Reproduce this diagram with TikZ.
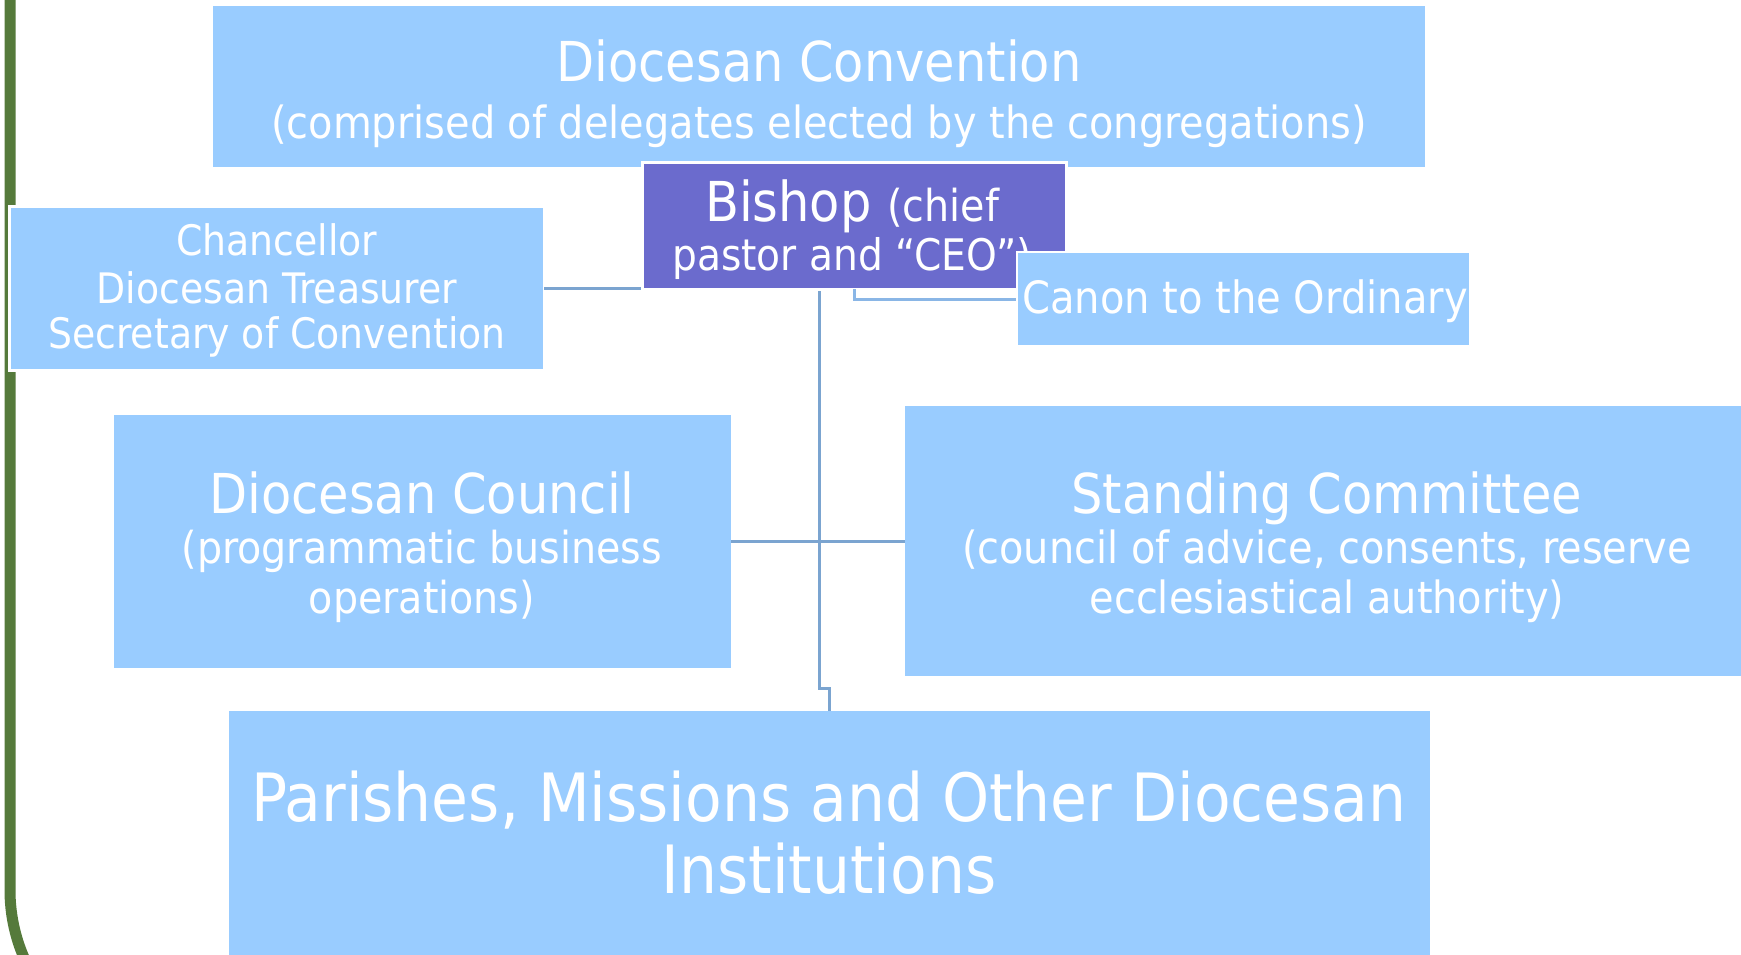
\documentclass[tikz,border=0pt]{standalone}
\usepackage{fontspec}
\setmainfont{DejaVu Sans Condensed}
\definecolor{boxblue}{RGB}{153,204,255}
\definecolor{bishopc}{RGB}{107,107,205}
\definecolor{linkc}{RGB}{123,164,208}
\definecolor{linkl}{RGB}{138,182,230}
\definecolor{frameg}{RGB}{85,122,59}
\newcommand{\fs}[1]{\fontsize{#1pt}{#1pt}\selectfont}
\tikzset{
  box/.style={rectangle, fill=boxblue, anchor=north west, inner sep=0pt, outer sep=0pt},
  wbox/.style={box, draw=white, line width=3pt},
  txt/.style={anchor=base, text=white, inner sep=0pt, outer sep=0pt},
  link/.style={draw=linkc, line width=3pt},
  linkb/.style={draw=linkl, line width=3pt},
  framel/.style={draw=frameg, line width=11pt}
}
\begin{document}
\begin{tikzpicture}[x=1pt,y=-1pt]
\useasboundingbox (0,0) rectangle (1741,954);
\clip (0,0) rectangle (1741,954);
\fill[white] (0,0) rectangle (1741,954);
% frame
\draw[framel] (10,-20) -- (10,890) arc[start angle=180, end angle=90, radius=170];
% boxes
\node[box, minimum width=1212pt, minimum height=161pt] (conv) at (213,6) {};
\node[box, minimum width=617pt, minimum height=253pt] (coun) at (114,415) {};
\node[box, minimum width=860pt, minimum height=270pt] (stand) at (905,406) {};
\node[box, minimum width=1201pt, minimum height=270pt] (par) at (229,711) {};
\node[wbox, minimum width=535pt, minimum height=164pt] (chan) at (9,206) {};
% connectors
\draw[link] (chan.east) -- (chan.east -| coun.east) -- ++(97,0);
\coordinate (jog) at (819,688);
\draw[link] (conv.south |- chan.east) -- (jog) -| (par.north);
\draw[link] (coun.east) -- (coun.east -| stand.west);
% bishop
\node[wbox, fill=bishopc, minimum width=424pt, minimum height=127pt] (bish) at (642,162) {};
\node[txt] (bisht) at (852,221) {\fs{55}Bishop \fs{44}(chief};
\node[txt] (bisht2) at (852,270) {\fs{43.5}pastor and “CEO”)};
\draw[linkb] (bish.south) |- (854,299) -- (1017,299);
% canon
\node[wbox, line width=2pt, minimum width=453pt, minimum height=94pt] (canon) at (1017,252) {};
% texts
\node[txt] (convt1) at (819,81) {\fs{55}Diocesan Convention};
\node[txt] (convt2) at (819,138) {\fs{44.3}(comprised of delegates elected by the congregations)};
\node[txt] (chant1) at (277,255) {\fs{42}Chancellor};
\node[txt] (chant2) at (277,303) {\fs{42}Diocesan Treasurer};
\node[txt] (chant3) at (277,348) {\fs{42}Secretary of Convention};
\node[txt] (canont) at (1245,313) {\fs{44.5}Canon to the Ordinary};
\node[txt] (count1) at (422,513) {\fs{55}Diocesan Council};
\node[txt] (count2) at (422,563) {\fs{44}(programmatic business};
\node[txt] (count3) at (422,613) {\fs{44}operations)};
\node[txt] (standt1) at (1327,513) {\fs{55}Standing Committee};
\node[txt] (standt2) at (1327,563) {\fs{44.3}(council of advice, consents, reserve};
\node[txt] (standt3) at (1327,613) {\fs{44.3}ecclesiastical authority)};
\node[txt] (part1) at (829,821) {\fs{66.6}Parishes, Missions and Other Diocesan};
\node[txt] (part2) at (829,893) {\fs{66.6}Institutions};
\end{tikzpicture}
\end{document}
